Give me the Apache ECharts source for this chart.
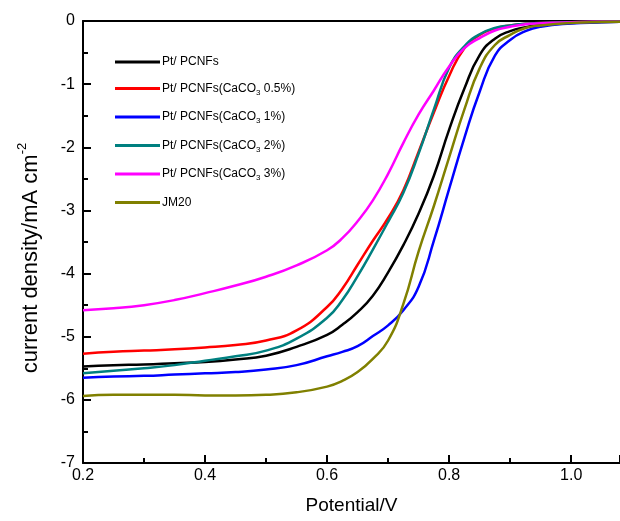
<!DOCTYPE html>
<html>
<head>
<meta charset="utf-8">
<script src="https://cdn.jsdelivr.net/npm/echarts@6/dist/echarts.min.js"></script>
<style>
html,body{margin:0;padding:0;background:#fff;}
#chart{width:620px;height:521px;}
</style>
</head>
<body>
<div id="chart"></div>
<script>
var potential = [0.20,0.25,0.30,0.35,0.40,0.45,0.50,0.55,0.60,0.625,0.65,0.675,0.70,0.725,0.75,0.775,0.80,0.825,0.85,0.875,0.90,0.925,0.95,1.00,1.05,1.08];
var ptPCNFs  = [-5.47,-5.45,-5.44,-5.42,-5.40,-5.36,-5.30,-5.16,-4.97,-4.81,-4.61,-4.35,-3.98,-3.55,-3.05,-2.45,-1.72,-1.07,-0.54,-0.28,-0.16,-0.10,-0.06,-0.03,-0.015,-0.01];
var caco3_05 = [-5.27,-5.24,-5.22,-5.20,-5.17,-5.13,-5.06,-4.90,-4.53,-4.24,-3.86,-3.48,-3.12,-2.68,-2.07,-1.45,-0.87,-0.43,-0.22,-0.12,-0.07,-0.045,-0.03,-0.02,-0.012,-0.01];
var caco3_1  = [-5.65,-5.63,-5.62,-5.60,-5.58,-5.56,-5.52,-5.45,-5.31,-5.24,-5.15,-4.99,-4.82,-4.58,-4.21,-3.48,-2.66,-1.85,-1.12,-0.55,-0.30,-0.16,-0.09,-0.04,-0.02,-0.01];
var caco3_2  = [-5.58,-5.54,-5.50,-5.45,-5.38,-5.31,-5.22,-5.03,-4.70,-4.42,-4.04,-3.62,-3.18,-2.72,-2.10,-1.40,-0.74,-0.40,-0.21,-0.11,-0.07,-0.045,-0.03,-0.02,-0.012,-0.01];
var caco3_3  = [-4.58,-4.55,-4.50,-4.42,-4.31,-4.19,-4.05,-3.87,-3.63,-3.44,-3.17,-2.84,-2.42,-1.93,-1.48,-1.10,-0.72,-0.43,-0.27,-0.15,-0.09,-0.05,-0.035,-0.02,-0.012,-0.01];
var jm20     = [-5.94,-5.92,-5.92,-5.92,-5.93,-5.93,-5.92,-5.88,-5.79,-5.70,-5.56,-5.35,-5.06,-4.48,-3.65,-2.93,-2.16,-1.40,-0.75,-0.38,-0.22,-0.11,-0.07,-0.03,-0.015,-0.01];

var seriesNames = ['Pt/ PCNFs','Pt/ PCNFs(CaCO3 0.5%)','Pt/ PCNFs(CaCO3 1%)','Pt/ PCNFs(CaCO3 2%)','Pt/ PCNFs(CaCO3 3%)','JM20'];
var seriesValues = [ptPCNFs, caco3_05, caco3_1, caco3_2, caco3_3, jm20];
var seriesColors = ['#000000','#ff0000','#0000ff','#008080','#ff00ff','#808000'];

var FONT = 'Liberation Sans, Arial, sans-serif';
var chart = echarts.init(document.getElementById('chart'));

var series = seriesNames.map(function(name, i){
  return {
    name: name,
    type: 'line',
    smooth: 0.5,
    showSymbol: false,
    symbol: 'none',
    lineStyle: {color: seriesColors[i], width: 2.5},
    itemStyle: {color: seriesColors[i]},
    data: potential.map(function(p, k){ return [p, seriesValues[i][k]]; })
  };
});

chart.setOption({
  animation: false,
  backgroundColor: '#fff',
  grid: {left: 83, top: 21, right: 0, bottom: 58},
  legend: {
    orient: 'vertical',
    left: 115,
    top: 56,
    padding: 0,
    itemWidth: 45,
    itemHeight: 3,
    itemGap: 14.5,
    icon: 'rect',
    data: seriesNames,
    formatter: function(name){
      if (name.indexOf('CaCO3') >= 0) {
        var parts = name.split('CaCO3');
        return '{t|' + parts[0] + 'CaCO}{s|3}{t|' + parts[1] + '}';
      }
      return '{t|' + name + '}';
    },
    textStyle: {
      fontFamily: FONT, fontSize: 12, color: '#000', padding: [0,0,0,-3],
      rich: {
        t: {fontFamily: FONT, fontSize: 12, color: '#000', lineHeight: 16, verticalAlign: 'middle'},
        s: {fontFamily: FONT, fontSize: 8, color: '#000', lineHeight: 16, verticalAlign: 'bottom'}
      }
    }
  },
  xAxis: [{
    type: 'value',
    min: 0.2,
    max: 1.08,
    interval: 0.2,
    name: 'Potential/V',
    nameLocation: 'middle',
    nameGap: 33,
    nameTextStyle: {fontFamily: FONT, fontSize: 19, color: '#000'},
    axisLine: {show: true, onZero: false, lineStyle: {color: '#000', width: 2}},
    axisTick: {show: true, inside: true, length: 8, lineStyle: {color: '#000', width: 2}},
    minorTick: {show: true, splitNumber: 2, length: 5, lineStyle: {color: '#000', width: 2}},
    axisLabel: {fontFamily: FONT, fontSize: 16, color: '#000', margin: 5, showMaxLabel: false,
      formatter: function(v){ return v.toFixed(1); }},
    splitLine: {show: false}
  }, {
    type: 'value',
    position: 'top',
    min: 0.2,
    max: 1.08,
    axisLine: {show: true, onZero: false, lineStyle: {color: '#000', width: 2}},
    axisTick: {show: false},
    axisLabel: {show: false},
    splitLine: {show: false}
  }],
  yAxis: {
    type: 'value',
    min: -7,
    max: 0,
    interval: 1,
    name: '{n|current density/mA cm}{p|-2}',
    nameLocation: 'middle',
    nameGap: 41,
    nameRotate: 90,
    nameTextStyle: {
      fontFamily: FONT, fontSize: 22, color: '#000',
      padding: [0, 32, 0, 0],
      rich: {
        n: {fontFamily: FONT, fontSize: 22, color: '#000', lineHeight: 26, verticalAlign: 'bottom'},
        p: {fontFamily: FONT, fontSize: 13, color: '#000', lineHeight: 26, verticalAlign: 'top'}
      }
    },
    axisLine: {show: true, onZero: false, lineStyle: {color: '#000', width: 2}},
    axisTick: {show: true, inside: true, length: 8, lineStyle: {color: '#000', width: 2}},
    minorTick: {show: true, splitNumber: 2, length: 5, lineStyle: {color: '#000', width: 2}},
    axisLabel: {fontFamily: FONT, fontSize: 16, color: '#000', margin: 8},
    splitLine: {show: false}
  },
  series: series
});
</script>
</body>
</html>
